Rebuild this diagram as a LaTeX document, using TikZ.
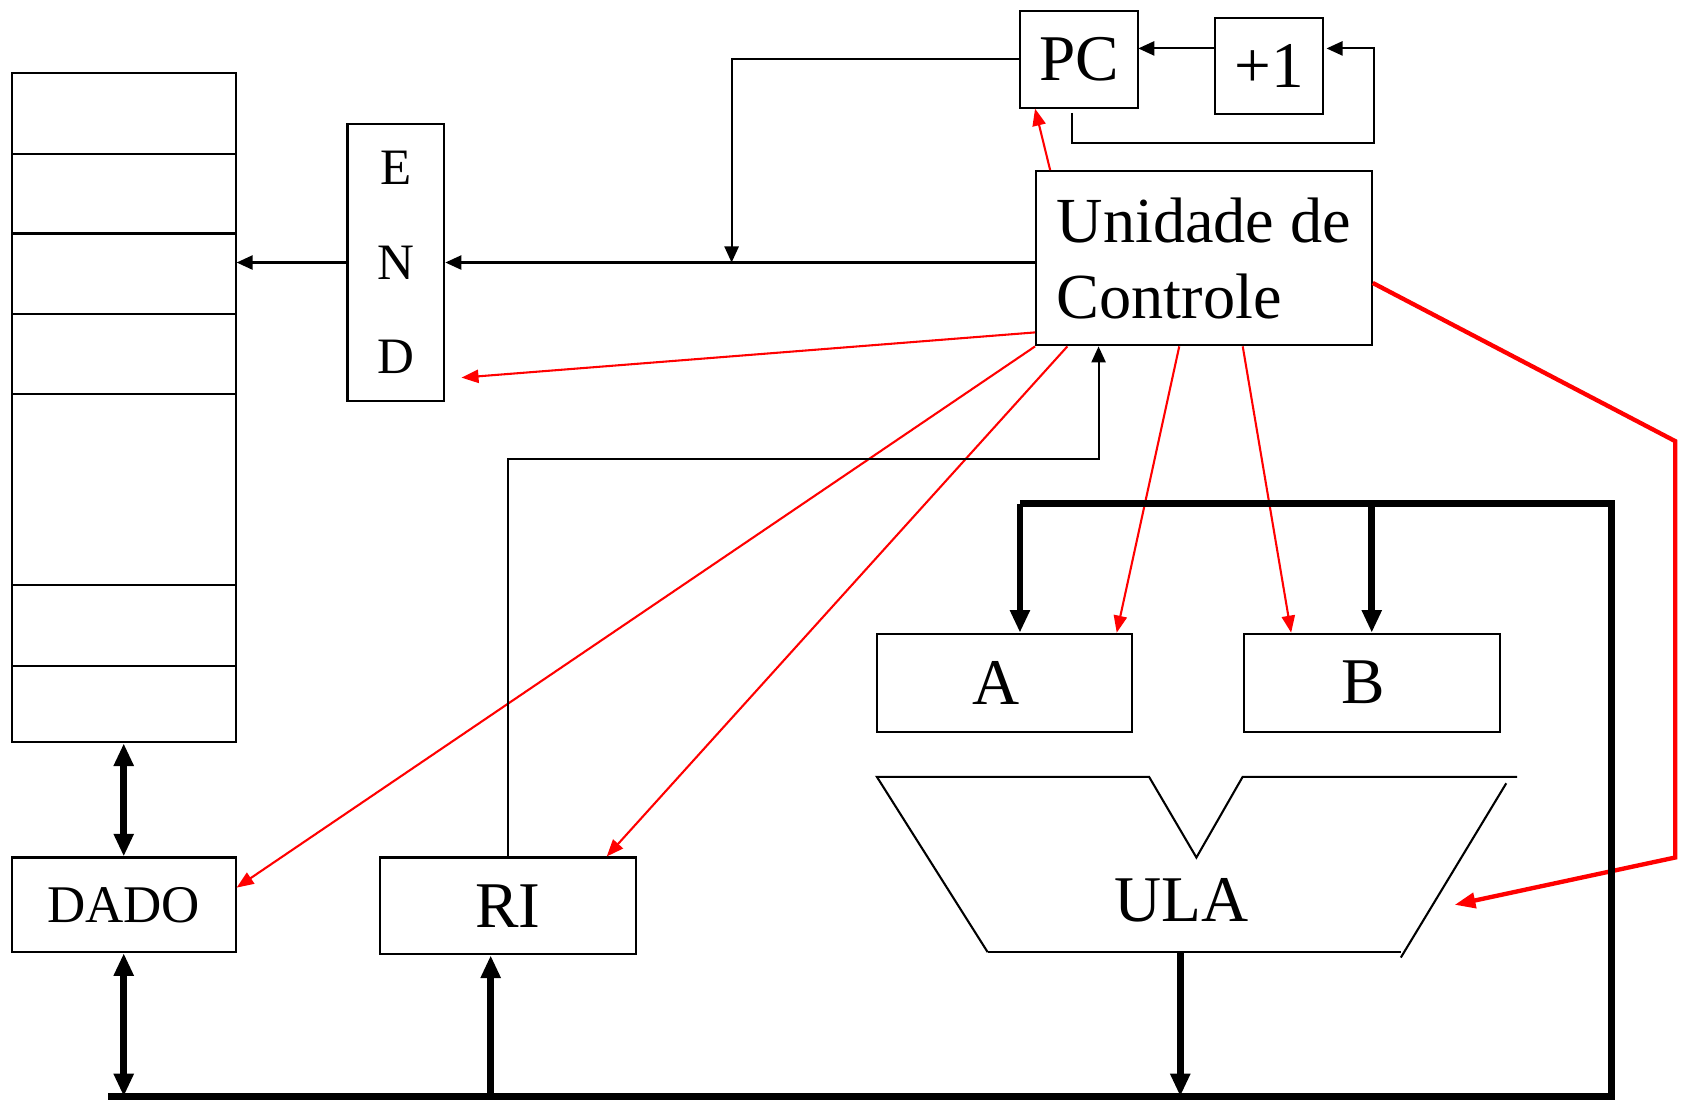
\documentclass[tikz,border=0pt]{standalone}
\usepackage{fontspec}
\setmainfont{Liberation Serif}
\usetikzlibrary{arrows.meta,calc}
\begin{document}
\begin{tikzpicture}[x=0.02cm,y=-0.02cm,
  box/.style={draw,line width=1.1pt,inner sep=0pt},
  cell/.style={line width=1.1pt},
  big/.style={font=\fontsize{34.5}{40}\selectfont},
  thinarr/.style={line width=1.1pt,-{Triangle[length=8.5pt,width=7.5pt]}},
  redarr/.style={draw=red,line width=1.1pt,-{Triangle[length=9pt,width=7pt]}},
  redthick/.style={draw=red,line width=2.3pt,-{Triangle[length=11pt,width=8pt]}},
  bus/.style={line width=3.6pt,line join=miter},
  busarr/.style={line width=3.6pt,-{Triangle[length=12pt,width=10pt]}},
  busboth/.style={line width=3.6pt,{Triangle[length=12pt,width=10pt]}-{Triangle[length=12pt,width=10pt]}},
  ulaline/.style={line width=1.1pt}
]
\useasboundingbox (0,0) rectangle (1568,1022);

% memory
\node[box,minimum width=4.16cm,minimum height=12.44cm] (mem) at (115,379) {};
\foreach \yy in {143,217,292,366,544,619} \draw[cell] (11,\yy) -- (219,\yy);

% address register
\node[box,minimum width=1.8cm,minimum height=5.16cm,align=center,
      font=\fontsize{27}{50}\selectfont] (endr) at (368,244) {E\\N\\D};

% program counter and incrementer
\node[box,big,minimum width=2.2cm,minimum height=1.8cm] (pc) at (1003,55) {PC};
\node[box,big,minimum width=2.02cm,minimum height=1.78cm] (inc) at (1179.5,61.5) {+1};

% control unit
\node[box,minimum width=6.24cm,minimum height=3.24cm,align=left,
      font=\fontsize{34}{40}\selectfont] (uc) at (1119,240) {Unidade de\\Controle};

% registers
\node[box,big,minimum width=4.74cm,minimum height=1.82cm] (ra) at (933.5,634.5) {\hspace*{-0.32cm}A};
\node[box,big,minimum width=4.76cm,minimum height=1.82cm] (rb) at (1275,634.5) {\hspace*{-0.32cm}B};
\node[box,minimum width=4.16cm,minimum height=1.76cm,font=\fontsize{28}{34}\selectfont] (dado) at (115,841) {DADO};
\node[box,big,minimum width=4.76cm,minimum height=1.8cm] (ri) at (472,842) {RI};

% ALU outline
\draw[ulaline] (918,885) -- (815,722) -- (1068,722) -- (1112,797) -- (1155,722) -- (1410,722);
\draw[ulaline] (1400,728) -- (1302,890);
\draw[ulaline] (918,885) -- (1302,885);
\node[big] (ula) at (1098,837) {ULA};

% address path
\draw[thinarr] (endr.west) -- (endr.west -| mem.east);
\draw[thinarr] (uc.west |- endr.east) -- (endr.east);
\coordinate (drop) at (680,244);
\draw[thinarr] (pc.west) -| (drop);

% increment loop
\coordinate (pcin) at (1058,45);
\draw[thinarr] (inc.west |- pcin) -- (pcin);
\coordinate (fb) at (996,105);
\draw[thinarr] (fb) |- (1277,133) |- ($(inc.east |- pcin)+(2,0)$);

% control signals
\draw[redarr] ($(uc.north west)+(14,0)$) -- ($(pc.south west)+(15,0)$);
\draw[redarr] ($(uc.south west)+(0,-13)$) -- ($(endr.east)+(15,107)$);
\draw[redarr] (uc.south west) -- ($(dado.east)+(0,-16)$);
\draw[redarr] ($(uc.south west)+(30,0)$) -- ($(ri.north east)+(-28,0)$);
\draw[redarr] ($(uc.south west)+(134,0)$) -- ($(ra.north east)+(-15,0)$);
\draw[redarr] ($(uc.south west)+(193,0)$) -- ($(rb.north west)+(45,0)$);
\coordinate (ulain) at (1352,841);
\draw[redthick] ($(uc.east)+(0,23)$) -- (1557,410) -- (1557,797) -- (ulain);

% instruction register to control unit
\draw[thinarr] (ri.north) |- ($(uc.south west)+(59,105)$) -- ($(uc.south west)+(59,0)$);

% data bus
\coordinate (busA) at (948,468);
\coordinate (busR) at (1498,468);
\coordinate (busBR) at (1498,1019);
\coordinate (busL) at (100,1019);
\draw[bus] (busA) -- (busR) -- (busBR) -- (busL);
\draw[busarr] (busA) -- (busA |- ra.north);
\draw[busarr] (busA -| rb.north) -- (rb.north);
\coordinate (ulaout) at (1097,885);
\draw[busarr] (ulaout) -- (ulaout |- busL);
\draw[busboth] (mem.south) -- (dado.north);
\draw[busboth] (dado.south) -- (dado.south |- busL);
\coordinate (riin) at ($(ri.south west)+(104,0)$);
\draw[busarr] (riin |- busL) -- (riin);
\end{tikzpicture}
\end{document}
